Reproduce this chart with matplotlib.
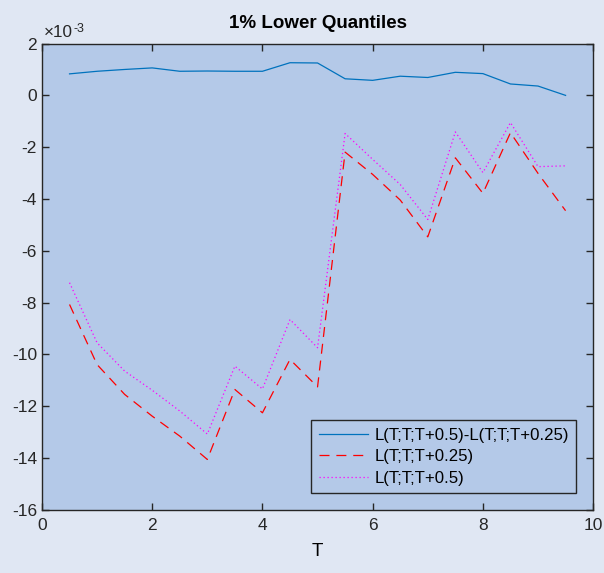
import numpy as np
import matplotlib
matplotlib.use('Agg')
import matplotlib.pyplot as plt
from matplotlib.ticker import FuncFormatter

plt.rcParams['font.family'] = ['Liberation Sans', 'DejaVu Sans']
plt.rcParams['axes.unicode_minus'] = False

# maturities T
T = [0.5, 1, 1.5, 2, 2.5, 3, 3.5, 4, 4.5, 5, 5.5, 6, 6.5, 7, 7.5, 8, 8.5, 9, 9.5]

# 1% lower quantiles, values in units of 1e-3
diff_q = [0.83, 0.93, 1.00, 1.06, 0.93, 0.94, 0.93, 0.93, 1.26, 1.25, 0.64,
          0.58, 0.74, 0.69, 0.89, 0.84, 0.44, 0.36, 0.0]
q_025 = [-8.07, -10.39, -11.54, -12.38, -13.15, -14.05, -11.35, -12.25, -10.19,
         -11.25, -2.19, -3.05, -4.04, -5.46, -2.41, -3.78, -1.44, -3.01, -4.45]
q_05 = [-7.23, -9.55, -10.64, -11.38, -12.18, -13.07, -10.45, -11.33, -8.65,
        -9.74, -1.47, -2.47, -3.44, -4.79, -1.41, -2.98, -1.05, -2.75, -2.72]

labels = ['L(T;T;T+0.5)-L(T;T;T+0.25)', 'L(T;T;T+0.25)', 'L(T;T;T+0.5)']

fig_bg = '#e0e7f3'
ax_bg = '#b4c9e8'
dark = '#262626'

fig = plt.figure(figsize=(6.04, 5.73), dpi=100, facecolor=fig_bg)
ax = fig.add_axes([0.0695, 0.110, 0.9125, 0.814])
ax.set_facecolor(ax_bg)

scale = 1e-3
ax.plot(T, np.array(diff_q) * scale, color='#0072BD', lw=0.9, label=labels[0])
ax.plot(T, np.array(q_025) * scale, color='#ff0000', lw=0.9, ls=(0, (8, 5.5)), label=labels[1])
ax.plot(T, np.array(q_05) * scale, color='#ff00ff', lw=0.9, ls=(0, (1, 2.2)), label=labels[2])

ax.set_xlim(0, 10)
ax.set_ylim(-16e-3, 2e-3)
ax.set_xticks(np.arange(0, 11, 2))
ax.set_yticks(np.arange(-16, 3, 2) * scale)
ax.yaxis.set_major_formatter(FuncFormatter(lambda v, p: '%g' % round(v / scale)))

# MATLAB style exponent label
ax.text(0.004, 1.0146, '\u00d710', transform=ax.transAxes, fontsize=12.3,
        color=dark, ha='left', va='baseline')
ax.text(0.0563, 1.0253, '-3', transform=ax.transAxes, fontsize=9,
        color=dark, ha='left', va='baseline')

ax.tick_params(direction='in', top=True, right=True, length=5, width=1,
               labelsize=12.5, colors=dark)
ax.tick_params(axis='x', pad=6)
for s in ax.spines.values():
    s.set_color(dark)
    s.set_linewidth(1.0)

ax.set_title('1% Lower Quantiles', fontsize=13.5, fontweight='bold', pad=11)
ax.set_xlabel('T', fontsize=13.5, labelpad=7)

leg = ax.legend(loc='lower right', fontsize=12.1, frameon=True, fancybox=False,
                facecolor=ax_bg, edgecolor=dark, framealpha=1,
                handlelength=2.9, borderaxespad=1.0, labelspacing=0.38,
                borderpad=0.45, handletextpad=0.4)
leg.get_frame().set_linewidth(1.0)

fig.savefig('out.png', dpi=100, facecolor=fig_bg)
